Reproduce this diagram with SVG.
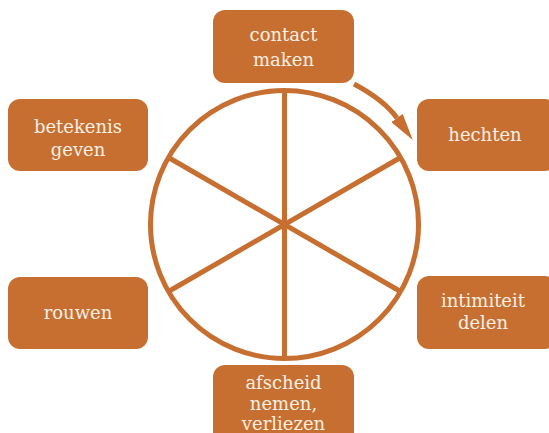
<svg xmlns="http://www.w3.org/2000/svg" width="549" height="433" viewBox="0 0 549 433">
<defs>
<style>
.box{fill:#c76f30;}
.lbl{font-family:"DejaVu Serif","Liberation Serif",serif;font-size:18px;fill:#f7efe4;text-anchor:middle;}
.ln{stroke:#c76f30;stroke-width:5;fill:none;}
</style>
<marker id="ah" viewBox="0 0 10 10" refX="0" refY="5" markerWidth="5.4" markerHeight="2.8" preserveAspectRatio="none" orient="auto" markerUnits="strokeWidth">
<path d="M0,0 L10,5 L0,10 z" fill="#c76f30"/>
</marker>
</defs>
<rect width="549" height="433" fill="#ffffff"/>
<g id="wheel">
<circle class="ln" cx="284.5" cy="224.5" r="134"/>
</g>
<g id="connectors">
<line class="ln" x1="284.5" y1="90.5" x2="284.5" y2="358.5"/>
<line class="ln" x1="168.5" y1="157.5" x2="400.5" y2="291.5"/>
<line class="ln" x1="168.5" y1="291.5" x2="400.5" y2="157.5"/>
<path class="ln" d="M354,84 Q384,100 397,118" marker-end="url(#ah)"/>
</g>
<g id="n1"><rect class="box" x="213" y="10" width="141" height="73" rx="12"/><text class="lbl" x="283.5" y="41">contact</text><text class="lbl" x="283.5" y="66">maken</text></g>
<g id="n2"><rect class="box" x="417" y="99" width="140" height="72" rx="12"/><text class="lbl" x="485" y="141">hechten</text></g>
<g id="n3"><rect class="box" x="417" y="276" width="140" height="73" rx="12"/><text class="lbl" x="483" y="307">intimiteit</text><text class="lbl" x="483" y="329">delen</text></g>
<g id="n4"><rect class="box" x="213" y="365" width="141" height="80" rx="12"/><text class="lbl" x="283.5" y="389">afscheid</text><text class="lbl" x="283.5" y="410">nemen,</text><text class="lbl" x="283.5" y="430">verliezen</text></g>
<g id="n5"><rect class="box" x="8" y="277" width="140" height="72" rx="12"/><text class="lbl" x="78" y="319">rouwen</text></g>
<g id="n6"><rect class="box" x="8" y="99" width="140" height="72" rx="12"/><text class="lbl" x="78" y="133">betekenis</text><text class="lbl" x="78" y="156">geven</text></g>
</svg>
